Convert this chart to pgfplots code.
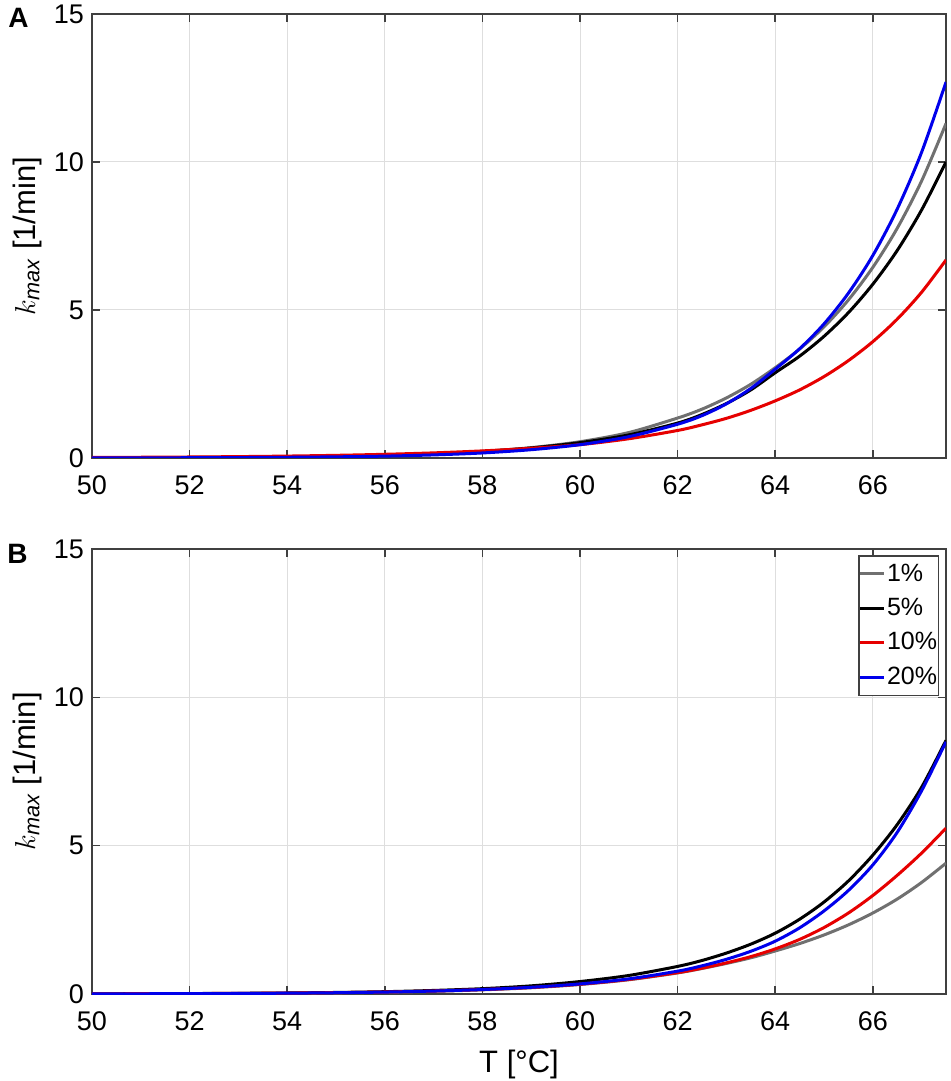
\documentclass[border=0pt]{standalone}
\usepackage{pgfplots}
\pgfplotsset{compat=1.18}
\usepackage{fontspec}
\setmainfont{Liberation Sans}
\definecolor{cgray}{RGB}{112,112,112}
\definecolor{cred}{RGB}{230,0,0}
\definecolor{cblue}{RGB}{0,0,235}
\definecolor{axgray}{RGB}{64,64,64}
\pgfplotsset{
  panel/.style={
    scale only axis, width=427pt, anchor=south west,
    xmin=50, xmax=67.5, ymin=0, ymax=15,
    xtick={50,52,...,66}, ytick={0,5,10,15},
    tick pos=both, tick align=inside, major tick length=4pt,
    grid=major, major grid style={draw=black!13, line width=0.5pt},
    axis line style={draw=axgray, line width=0.75pt},
    tick style={draw=axgray, line width=0.75pt},
    /pgf/number format/assume math mode=true,
    ticklabel style={font=\fontsize{13.5}{15}\selectfont},
    xticklabel style={yshift=-5.5pt},
    yticklabel style={xshift=-0.5pt},
    ylabel={$k_{\mathit{max}}$ [1/min]},
    every axis y label/.style={at={(axis description cs:-0.076,0.5)}, rotate=90, anchor=center,
      font=\fontsize{15.5}{17}\selectfont},
    every axis plot/.append style={line width=1.5pt, smooth},
  },
}
\begin{document}
\begin{tikzpicture}
\path[use as bounding box] (0,0) rectangle (475pt,540.5pt);
% Panel A
\begin{axis}[panel, at={(46pt,311.5pt)}, height=222pt]
\addplot[cgray] coordinates {(50,0.006)(51,0.0095)(52,0.015)(53,0.024)(54,0.037)(55,0.058)(56,0.09)(57,0.14)(58,0.22)(59,0.35)(60,0.55)(61,0.86)(62,1.35)(62.5,1.65)(63,2.03)(63.5,2.49)(64,3.05)(64.5,3.68)(65,4.43)(65.5,5.34)(66,6.44)(66.5,7.76)(67,9.36)(67.5,11.3)};
\addplot[black] coordinates {(50,0.007)(51,0.011)(52,0.017)(53,0.026)(54,0.039)(55,0.06)(56,0.093)(57,0.143)(58,0.22)(59,0.34)(60,0.52)(61,0.78)(62,1.18)(62.5,1.47)(63,1.84)(63.5,2.3)(64,2.88)(64.5,3.44)(65,4.11)(65.5,4.91)(66,5.87)(66.5,7.01)(67,8.38)(67.5,10.0)};
\addplot[cred] coordinates {(50,0.018)(51,0.025)(52,0.034)(53,0.047)(54,0.065)(55,0.09)(56,0.125)(57,0.173)(58,0.24)(59,0.33)(60,0.45)(61,0.65)(62,0.93)(62.5,1.12)(63,1.34)(63.5,1.61)(64,1.93)(64.5,2.3)(65,2.75)(65.5,3.29)(66,3.93)(66.5,4.69)(67,5.6)(67.5,6.69)};
\addplot[cblue] coordinates {(50,0.003)(51,0.005)(52,0.009)(53,0.015)(54,0.024)(55,0.039)(56,0.063)(57,0.104)(58,0.17)(59,0.28)(60,0.45)(61,0.72)(62,1.14)(62.5,1.43)(63,1.83)(63.5,2.35)(64,3.0)(64.5,3.69)(65,4.53)(65.5,5.57)(66,6.84)(66.5,8.41)(67,10.33)(67.5,12.7)};
\end{axis}
% Panel B
\begin{axis}[panel, at={(46pt,43.5pt)}, height=222.5pt,
  xlabel={T [°C]},
  every axis x label/.style={at={(axis description cs:0.5,-0.1775)}, anchor=base,
    font=\fontsize{15.5}{17}\selectfont},
  legend style={at={(axis description cs:0.9918,0.9865)}, anchor=north east,
    draw=axgray, line width=0.75pt, fill=white, font=\fontsize{12.5}{14}\selectfont,
    inner xsep=0pt, inner ysep=0.5pt, row sep=0pt, column sep=0pt,
    nodes={inner xsep=0.6pt, inner ysep=3.5pt}, cells={anchor=west}},
  legend image code/.code={\draw[#1, line width=1.5pt] (0pt,0pt) -- (12pt,0pt);},
]
\addplot[cgray] coordinates {(50,0.005)(51,0.0075)(52,0.011)(53,0.017)(54,0.026)(55,0.04)(56,0.06)(57,0.09)(58,0.14)(59,0.21)(60,0.32)(61,0.48)(62,0.71)(62.5,0.86)(63,1.03)(63.5,1.22)(64,1.45)(64.5,1.7)(65,1.99)(65.5,2.33)(66,2.73)(66.5,3.2)(67,3.76)(67.5,4.41)};
\addlegendentry{1\%}
\addplot[black] coordinates {(50,0.0064)(51,0.0098)(52,0.015)(53,0.023)(54,0.034)(55,0.052)(56,0.078)(57,0.12)(58,0.18)(59,0.275)(60,0.42)(61,0.625)(62,0.93)(62.5,1.13)(63,1.38)(63.5,1.68)(64,2.05)(64.5,2.52)(65,3.1)(65.5,3.81)(66,4.68)(66.5,5.71)(67,6.97)(67.5,8.55)};
\addlegendentry{5\%}
\addplot[cred] coordinates {(50,0.0065)(51,0.0095)(52,0.014)(53,0.021)(54,0.031)(55,0.046)(56,0.068)(57,0.1)(58,0.15)(59,0.22)(60,0.33)(61,0.49)(62,0.72)(62.5,0.87)(63,1.05)(63.5,1.26)(64,1.52)(64.5,1.84)(65,2.24)(65.5,2.73)(66,3.32)(66.5,4.0)(67,4.75)(67.5,5.59)};
\addlegendentry{10\%}
\addplot[cblue] coordinates {(50,0.005)(51,0.0078)(52,0.012)(53,0.018)(54,0.028)(55,0.043)(56,0.065)(57,0.099)(58,0.15)(59,0.226)(60,0.34)(61,0.51)(62,0.77)(62.5,0.95)(63,1.17)(63.5,1.44)(64,1.78)(64.5,2.23)(65,2.8)(65.5,3.49)(66,4.35)(66.5,5.45)(67,6.85)(67.5,8.5)};
\addlegendentry{20\%}
\end{axis}
\node[font=\fontsize{14}{16}\selectfont\bfseries] at (9.25pt,531.5pt) {A};
\node[font=\fontsize{14}{16}\selectfont\bfseries] at (8.75pt,263.75pt) {B};
\end{tikzpicture}
\end{document}
